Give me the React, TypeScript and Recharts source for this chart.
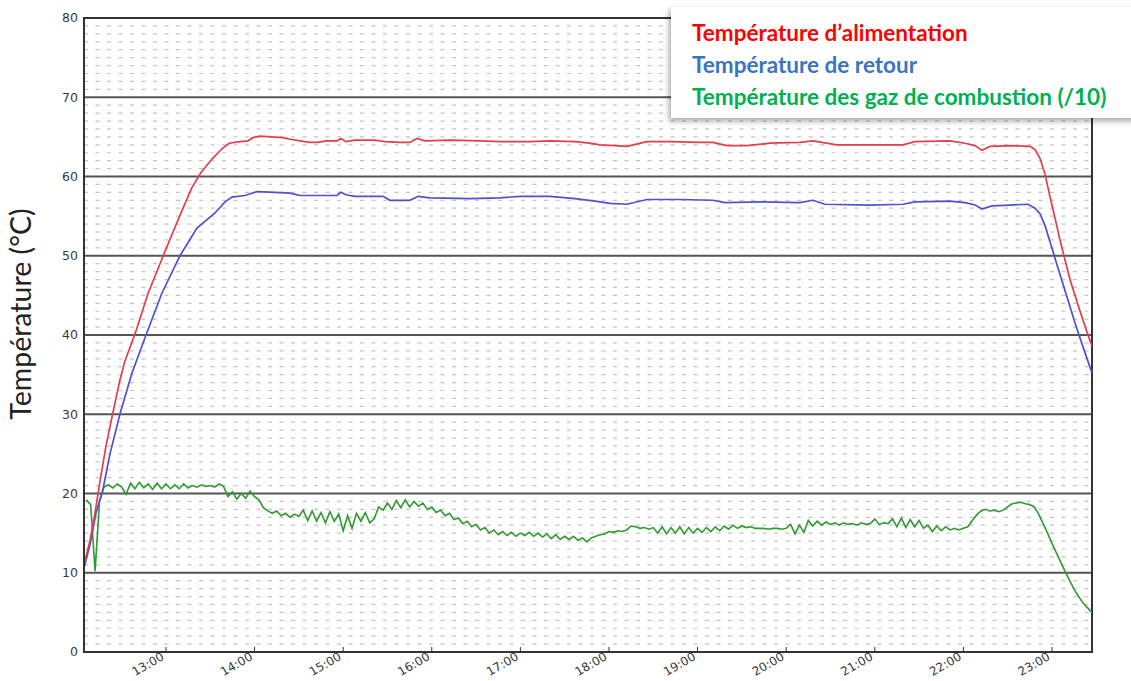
import React from 'react';
import { LineChart, Line, XAxis, YAxis, CartesianGrid, ReferenceArea, ReferenceLine, Legend } from 'recharts';

// Time is expressed in minutes since midnight
const hourTicks = [780, 840, 900, 960, 1020, 1080, 1140, 1200, 1260, 1320, 1380];
const yTicks = [0, 10, 20, 30, 40, 50, 60, 70, 80];
const minorYTicks = Array.from({ length: 81 }, (_, i) => i).filter((v) => v % 10 !== 0);
const timeDomain = [724.5, 1407.1];

const seriesNames = [
  'Température d’alimentation',
  'Température de retour',
  'Température des gaz de combustion (/10)',
];
const lineColors = ['#e23e4e', '#5050d2', '#2f9a2f'];
const legendColors = ['#ff0000', '#3b74c0', '#00b050'];

// Supply temperature
const redMinutes = [724.5, 728.5, 731.9, 735.3, 739.4, 744.1, 748.8, 752.2, 759.7, 767.8, 778.6, 786.1, 792.2, 797.6, 803.7, 811.2, 817.9, 822.7, 830.1, 835.5, 838.9, 843.7, 859.2, 864, 870.7, 877.5, 882.3, 889, 895.8, 898.5, 901.9, 908, 921.5, 928.3, 938.5, 945.2, 950, 955.4, 972.3, 992.6, 1006.2, 1026.5, 1040, 1057, 1067.1, 1073.9, 1084, 1092.2, 1105.7, 1121.3, 1141.6, 1150.4, 1159.9, 1173.4, 1189, 1209.3, 1218.1, 1234.4, 1256.7, 1279.1, 1287.2, 1310.9, 1321.1, 1327.9, 1332.6, 1338, 1351.6, 1365.1, 1368.5, 1371.9, 1375.3, 1378.6, 1382, 1385.4, 1392.2, 1399, 1404.4, 1407.1];
const redTemps = [11.0, 14.0, 17.5, 21.5, 26.0, 30.2, 34.3, 36.7, 40.5, 45.2, 50.2, 53.6, 56.3, 58.6, 60.5, 62.2, 63.5, 64.2, 64.4, 64.5, 64.9, 65.1, 64.9, 64.7, 64.5, 64.3, 64.3, 64.5, 64.5, 64.8, 64.4, 64.6, 64.6, 64.4, 64.3, 64.3, 64.8, 64.5, 64.6, 64.5, 64.4, 64.4, 64.5, 64.4, 64.2, 64.0, 63.9, 63.8, 64.4, 64.4, 64.3, 64.3, 63.9, 63.9, 64.2, 64.3, 64.5, 64.0, 64.0, 64.0, 64.4, 64.5, 64.2, 63.9, 63.3, 63.8, 63.9, 63.8, 63.4, 62.3, 60.3, 57.5, 54.8, 52.0, 47.0, 43.0, 40.0, 38.6];

// Return temperature
const blueMinutes = [724.5, 728.5, 732.6, 737.3, 742.1, 748.8, 757, 766.5, 777.3, 789.5, 801, 813.2, 820, 824.7, 833.5, 841.6, 853.8, 864, 870.7, 882.3, 895.8, 898.5, 901.9, 908, 927, 931.7, 945.2, 950.7, 958.8, 985.9, 1006.2, 1019.7, 1040, 1057, 1070.5, 1080.7, 1092.2, 1105.7, 1128.1, 1150.4, 1158.6, 1182.3, 1209.3, 1218.1, 1226.2, 1256.7, 1279.1, 1287.2, 1310.9, 1321.1, 1327.9, 1332.6, 1339.4, 1351.6, 1363.8, 1368.5, 1371.9, 1375.3, 1378.6, 1384, 1389.5, 1395.6, 1401, 1407.1];
const blueTemps = [10.6, 13.5, 17.5, 20.5, 25.0, 30.0, 35.2, 40.0, 45.3, 50.0, 53.5, 55.4, 56.8, 57.4, 57.6, 58.1, 58.0, 57.9, 57.6, 57.6, 57.6, 58.0, 57.7, 57.5, 57.5, 57.0, 57.0, 57.5, 57.3, 57.2, 57.3, 57.5, 57.5, 57.2, 56.9, 56.6, 56.5, 57.1, 57.1, 57.0, 56.7, 56.8, 56.7, 57.0, 56.5, 56.4, 56.5, 56.8, 56.9, 56.7, 56.4, 55.9, 56.3, 56.4, 56.5, 56.0, 55.3, 53.8, 51.8, 48.5, 45.2, 41.5, 38.5, 35.2];

// Flue gas temperature (/10), logged every 3 minutes from 12:06
const greenStartMinute = 726;
const greenStepMinutes = 3;
const greenTemps = [
  19.2, 18.6, 10.2, 19.0, 20.8, 21.1, 20.7, 21.2, 20.8, 19.9, 21.3, 20.6, 21.4, 20.7, 21.2, 20.5, 21.3, 20.6,
  21.2, 20.6, 21.1, 20.6, 21.2, 20.7, 21.0, 20.8, 21.1, 20.9, 21.0, 20.8, 21.2, 20.9, 19.6, 20.2, 19.3, 20.0, 19.4, 20.3,
  19.6, 19.2, 18.2, 17.8, 17.5, 17.8, 17.2, 17.5, 17.0, 17.4, 17.1, 17.9, 16.6, 17.8, 16.5, 17.6, 16.3, 17.7, 16.5, 17.4,
  15.3, 17.2, 15.6, 17.5, 16.5, 17.6, 16.3, 16.8, 18.3, 17.9, 18.8, 18.0, 19.1, 18.2, 19.2, 18.3, 19.0, 18.4, 18.8, 18.0,
  18.3, 17.6, 17.9, 17.2, 17.5, 16.7, 16.9, 16.2, 16.5, 15.8, 16.1, 15.4, 15.7, 15.0, 15.4, 14.8, 15.2, 14.7, 15.1, 14.6,
  15.0, 14.7, 15.1, 14.6, 15.0, 14.5, 14.9, 14.3, 14.8, 14.2, 14.6, 14.2, 14.6, 14.1, 14.4, 13.9, 14.4, 14.6, 14.8, 14.9,
  15.2, 15.1, 15.3, 15.2, 15.4, 15.9, 15.8, 15.6, 15.7, 15.5, 15.7, 15.0, 15.8, 14.9, 15.7, 15.0, 15.8, 14.9, 15.7, 15.0,
  15.6, 15.1, 15.7, 15.2, 15.8, 15.3, 15.9, 15.5, 16.0, 15.6, 15.9, 15.7, 15.8, 15.6, 15.6, 15.6, 15.5, 15.6, 15.6, 15.5,
  15.6, 16.1, 14.9, 16.0, 15.1, 16.6, 15.9, 16.5, 16.0, 16.4, 16.1, 16.3, 16.0, 16.3, 16.1, 16.2, 16.0, 16.3, 16.1, 16.2,
  16.8, 16.1, 16.3, 16.2, 16.8, 15.8, 16.9, 15.7, 16.7, 15.8, 16.6, 15.6, 16.0, 15.2, 15.9, 15.3, 15.8, 15.4, 15.6, 15.4,
  15.6, 15.8, 16.6, 17.3, 17.8, 18.0, 17.8, 17.9, 17.7, 17.9, 18.3, 18.7, 18.8, 18.9, 18.7, 18.6, 18.3, 17.4, 16.2, 15.0,
  13.7, 12.5, 11.3, 10.1, 9.0, 7.9, 7.0, 6.2, 5.6, 5.0,
];

const redData = redMinutes.map((t, i) => ({ t, v: redTemps[i] }));
const blueData = blueMinutes.map((t, i) => ({ t, v: blueTemps[i] }));
const greenData = greenTemps.map((v, i) => ({ t: greenStartMinute + i * greenStepMinutes, v }));

const fmtHour = (m: number) => `${Math.floor(m / 60)}:00`;

const XTick = (props: any) => {
  const { x, y, payload } = props;
  return (
    <g transform={`translate(${x - 1},${y})`}>
      <text
        x={0}
        y={0}
        textAnchor="end"
        transform="rotate(-30)"
        fill="#3a3a3a"
        fontSize={12}
        fontFamily="DejaVu Sans"
      >
        {fmtHour(payload.value)}
      </text>
    </g>
  );
};

const LegendBox = () => (
  <div
    style={{
      background: '#fff',
      boxShadow: '-2px 3px 6px rgba(0,0,0,0.35)',
      width: 470,
      height: 111,
      boxSizing: 'border-box',
      padding: '10px 0 0 21px',
      fontFamily: 'Lato, "Open Sans", sans-serif',
      fontWeight: 700,
      fontSize: 22.5,
      lineHeight: '32px',
    }}
  >
    {seriesNames.map((n, i) => (
      <div key={n} style={{ color: legendColors[i], whiteSpace: 'nowrap' }}>
        {n}
      </div>
    ))}
  </div>
);

const YLabel = () => (
  <text
    x={0}
    y={0}
    transform="translate(31,314) rotate(-90)"
    textAnchor="middle"
    fill="#222"
    fontSize={28.5}
    fontFamily="Lato, 'Open Sans', sans-serif"
  >
    Température (°C)
  </text>
);

export default function App() {
  return (
    <div style={{ position: 'absolute', left: 0, top: 0, width: 1131, height: 681, background: '#fff' }}>
      <LineChart width={1131} height={681} margin={{ top: 18, right: 39, bottom: 0, left: 0 }}>
        {minorYTicks.map((v) => (
          <ReferenceLine key={`m${v}`} y={v} stroke="#c4c4c4" strokeWidth={1.2} strokeDasharray="4 7.5" />
        ))}
        <CartesianGrid vertical={false} horizontalValues={yTicks} stroke="#555" strokeWidth={1.8} />
        <XAxis
          type="number"
          dataKey="t"
          domain={timeDomain}
          ticks={hourTicks}
          allowDataOverflow
          height={29}
          tickSize={-5}
          tickMargin={12}
          tick={<XTick />}
          axisLine={{ stroke: '#333', strokeWidth: 2 }}
          tickLine={{ stroke: '#333' }}
        />
        <XAxis
          xAxisId="top"
          orientation="top"
          type="number"
          domain={timeDomain}
          ticks={hourTicks}
          allowDataOverflow
          height={0}
          tickSize={-5}
          tick={false}
          axisLine={false}
          tickLine={{ stroke: '#333' }}
        />
        <YAxis
          type="number"
          domain={[0, 80]}
          ticks={yTicks}
          width={84}
          tickLine={false}
          tickSize={0}
          tickMargin={6}
          axisLine={{ stroke: '#333', strokeWidth: 2 }}
          tick={{ fill: '#3a3a3a', fontSize: 12.5, fontFamily: 'DejaVu Sans' }}
          label={<YLabel />}
        />
        <ReferenceArea x1={timeDomain[0]} x2={timeDomain[1]} y1={0} y2={80} fill="none" stroke="#333" strokeWidth={2} ifOverflow="visible" />
        <Line data={greenData} dataKey="v" name={seriesNames[2]} stroke={lineColors[2]} strokeWidth={1.6} dot={false} isAnimationActive={false} type="linear" />
        <Line data={blueData} dataKey="v" name={seriesNames[1]} stroke={lineColors[1]} strokeWidth={1.7} dot={false} isAnimationActive={false} type="linear" />
        <Line data={redData} dataKey="v" name={seriesNames[0]} stroke={lineColors[0]} strokeWidth={1.7} dot={false} isAnimationActive={false} type="linear" />
        <Legend
          layout="horizontal"
          verticalAlign="middle"
          align="center"
          content={<LegendBox />}
          wrapperStyle={{ left: 671, top: 7, width: 470, height: 111 }}
        />
      </LineChart>
    </div>
  );
}
